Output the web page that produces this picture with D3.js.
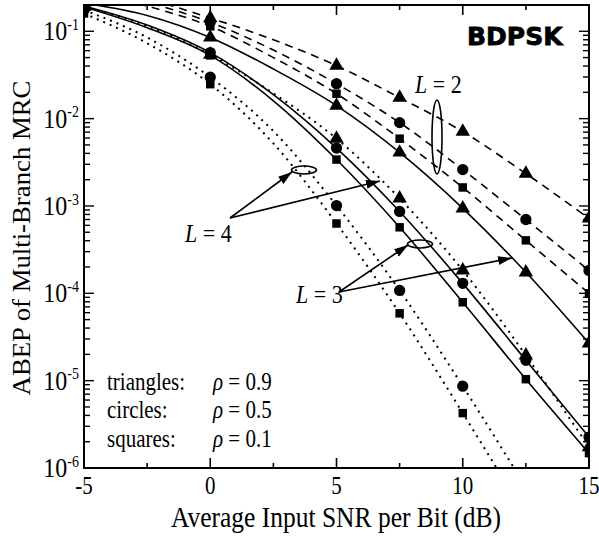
<!DOCTYPE html>
<html>
<head>
<meta charset="utf-8">
<script src="https://cdn.jsdelivr.net/npm/d3@7"></script>
<style>
  body { margin: 0; background: #fff; }
  text { font-family: "Liberation Serif", "Times New Roman", Times, serif; fill: #000; }
</style>
</head>
<body>
<div id="chart"></div>
<script>
// SNR grid (dB) and where the markers sit
var snr = [-5, -2.5, 0, 2.5, 5, 7.5, 10, 12.5, 15];
var markerSnr = [-5, 0, 5, 7.5, 10, 12.5, 15];

// L = 2 (dashed)
var l2_rho09 = [0.34, 0.235, 0.142, 0.080, 0.0404, 0.0174, 0.0071, 0.00235, 0.00072];
var l2_rho05 = [0.32, 0.215, 0.127, 0.061, 0.0251, 0.0090, 0.00261, 0.00070, 0.000183];
var l2_rho01 = [0.30, 0.195, 0.114, 0.050, 0.0193, 0.0059, 0.00163, 0.000404, 0.000100];
// L = 3 (solid)
var l3_rho09 = [0.21, 0.152, 0.085, 0.037, 0.0141, 0.0041, 0.00094, 0.000174, 0.0000268];
var l3_rho05 = [0.195, 0.118, 0.057, 0.0188, 0.0046, 0.000865, 0.00013, 0.0000171, 0.00000226];
var l3_rho01 = [0.19, 0.11, 0.053, 0.016, 0.0034, 0.00057, 0.000079, 0.0000104, 0.00000148];
// L = 4 (dotted)
var l4_rho09 = [0.19, 0.115, 0.054, 0.0195, 0.0059, 0.00122, 0.000183, 0.0000195, 0.00000174];
var l4_rho05 = [0.175, 0.085, 0.0298, 0.0072, 0.00101, 0.000108, 0.00000865, 0.0000006];
var l4_rho01 = [0.16, 0.073, 0.0248, 0.0052, 0.00063, 0.000059, 0.00000425, 0.00000028];

var yTickPowers = [-1, -2, -3, -4, -5, -6];
var xTicks = [-5, 0, 5, 10, 15];

var series = [
  {values: l2_rho09, dash: "8,6", shape: "triangle"},
  {values: l2_rho05, dash: "8,6", shape: "circle"},
  {values: l2_rho01, dash: "8,6", shape: "square"},
  {values: l3_rho09, dash: null, shape: "triangle"},
  {values: l3_rho05, dash: null, shape: "circle"},
  {values: l3_rho01, dash: null, shape: "square"},
  {values: l4_rho09, dash: "2,5", shape: "triangle"},
  {values: l4_rho05, dash: "2,5", shape: "circle"},
  {values: l4_rho01, dash: "2,5", shape: "square"}
];

var width = 599, height = 538;
var margin = {left: 84, right: 10, top: 5, bottom: 70};
var stretch = 1.15; // the glyphs in the figure are a bit taller than wide

var svg = d3.select("#chart").append("svg")
  .attr("width", width)
  .attr("height", height);

var x = d3.scaleLinear().domain([-5, 15]).range([margin.left, width - margin.right]);
var y = d3.scaleLog().domain([1e-6, 0.2]).range([height - margin.bottom, margin.top]);

var defs = svg.append("defs");
defs.append("clipPath").attr("id", "plotclip")
  .append("rect")
  .attr("x", x(-5)).attr("y", y(0.2))
  .attr("width", x(15) - x(-5)).attr("height", y(1e-6) - y(0.2));

defs.append("marker")
  .attr("id", "arrow")
  .attr("markerUnits", "userSpaceOnUse")
  .attr("markerWidth", 15).attr("markerHeight", 10)
  .attr("refX", 14).attr("refY", 4.5)
  .attr("orient", "auto")
  .append("path").attr("d", "M0,0 L14,4.5 L0,9 Z").attr("fill", "#000");

var plot = svg.append("g").attr("clip-path", "url(#plotclip)");

var line = d3.line()
  .x(function(d) { return x(d[0]); })
  .y(function(d) { return y(d[1]); })
  .curve(d3.curveMonotoneX);

series.forEach(function(s) {
  var pts = s.values.map(function(v, i) { return [snr[i], v]; });
  plot.append("path")
    .datum(pts)
    .attr("d", line)
    .attr("fill", "none")
    .attr("stroke", "#000")
    .attr("stroke-width", s.dash == "2,5" ? 2 : 1.6)
    .attr("stroke-dasharray", s.dash);

  var mpts = pts.filter(function(p) { return markerSnr.indexOf(p[0]) >= 0; });
  var sym = s.shape == "triangle" ? d3.symbolTriangle : (s.shape == "circle" ? d3.symbolCircle : d3.symbolSquare);
  var size = s.shape == "triangle" ? 90 : (s.shape == "circle" ? 100 : 72);
  plot.selectAll(null)
    .data(mpts)
    .enter().append("path")
    .attr("d", d3.symbol().type(sym).size(size))
    .attr("transform", function(d) { return "translate(" + x(d[0]) + "," + y(d[1]) + ")"; })
    .attr("fill", "#000");
});

// frame
var x0 = x(-5), x1 = x(15), y0 = y(1e-6), y1 = y(0.2);
svg.append("rect")
  .attr("x", x0).attr("y", y1)
  .attr("width", x1 - x0).attr("height", y0 - y1)
  .attr("fill", "none").attr("stroke", "#000").attr("stroke-width", 2);

// x ticks, bottom and top, pointing in
d3.range(-2.5, 15, 2.5).forEach(function(v) {
  var len = (v % 5 == 0) ? 10 : 5;
  svg.append("line").attr("x1", x(v)).attr("x2", x(v)).attr("y1", y0).attr("y2", y0 - len)
    .attr("stroke", "#000").attr("stroke-width", 1.6);
  svg.append("line").attr("x1", x(v)).attr("x2", x(v)).attr("y1", y1).attr("y2", y1 + len)
    .attr("stroke", "#000").attr("stroke-width", 1.6);
});

// y ticks (major + minor), left and right
yTickPowers.forEach(function(p) {
  for (var m = 1; m <= 9; m++) {
    var v = m * Math.pow(10, p);
    if (v > 0.2) continue;
    var len = m == 1 ? 10 : 6;
    svg.append("line").attr("x1", x0).attr("x2", x0 + len).attr("y1", y(v)).attr("y2", y(v))
      .attr("stroke", "#000").attr("stroke-width", 1.4);
    svg.append("line").attr("x1", x1).attr("x2", x1 - len).attr("y1", y(v)).attr("y2", y(v))
      .attr("stroke", "#000").attr("stroke-width", 1.4);
  }
});

// text helper: positioned by transform so it can be stretched vertically
function addText(xp, yp, size) {
  return svg.append("text")
    .attr("transform", "translate(" + xp + "," + yp + ") scale(1," + stretch + ")")
    .style("font-size", size + "px");
}

// y tick labels
yTickPowers.forEach(function(p) {
  var t = addText(79, y(Math.pow(10, p)) + 9, 24).attr("text-anchor", "end");
  t.append("tspan").text("10");
  t.append("tspan").attr("dy", -9).style("font-size", "14px").text(String(p));
});

// x tick labels
xTicks.forEach(function(v) {
  addText(x(v), 494, 21).attr("text-anchor", "middle").text(v);
});

// axis titles
addText(336, 527, 25.5).attr("text-anchor", "middle")
  .text("Average Input SNR per Bit (dB)");

svg.append("text")
  .attr("transform", "translate(30,238) rotate(-90) scale(1.05,1)")
  .attr("text-anchor", "middle")
  .style("font-size", "25.5px")
  .text("ABEP of Multi-Branch MRC");

// title tag
svg.append("text")
  .attr("x", 467).attr("y", 45)
  .style("font-family", "'DejaVu Sans', sans-serif")
  .style("font-weight", "bold")
  .style("font-size", "25px")
  .attr("stroke", "#000").attr("stroke-width", 0.8)
  .text("BDPSK");

// legend
var legendRows = [
  ["triangles:", "0.9", 390],
  ["circles:", "0.5", 418],
  ["squares:", "0.1", 447]
];
legendRows.forEach(function(r) {
  addText(107, r[2], 21).text(r[0]);
  var t = addText(213, r[2], 21);
  t.append("tspan").style("font-style", "italic").text("\u03c1");
  t.append("tspan").text(" = " + r[1]);
});

// L labels with ellipses and arrows
function lLabel(xp, yp, n) {
  var t = addText(xp, yp, 22);
  t.append("tspan").style("font-style", "italic").text("L");
  t.append("tspan").text(" = " + n);
}
lLabel(415, 93, 2);
lLabel(185, 242, 4);
lLabel(296, 303, 3);

function ellipse(cx, cy, rx, ry) {
  svg.append("ellipse").attr("cx", cx).attr("cy", cy).attr("rx", rx).attr("ry", ry)
    .attr("fill", "none").attr("stroke", "#000").attr("stroke-width", 1.6);
}
ellipse(437, 137, 5, 37);
ellipse(304, 170, 12.5, 4);
ellipse(420, 244, 12.5, 4);

function arrow(xa, ya, xb, yb) {
  svg.append("line").attr("x1", xa).attr("y1", ya).attr("x2", xb).attr("y2", yb)
    .attr("stroke", "#000").attr("stroke-width", 1.6)
    .attr("marker-end", "url(#arrow)");
}
arrow(230, 218, 292, 172);
arrow(230, 218, 380, 181);
arrow(339, 292, 408, 245);
arrow(339, 292, 512, 258);
</script>
</body>
</html>
